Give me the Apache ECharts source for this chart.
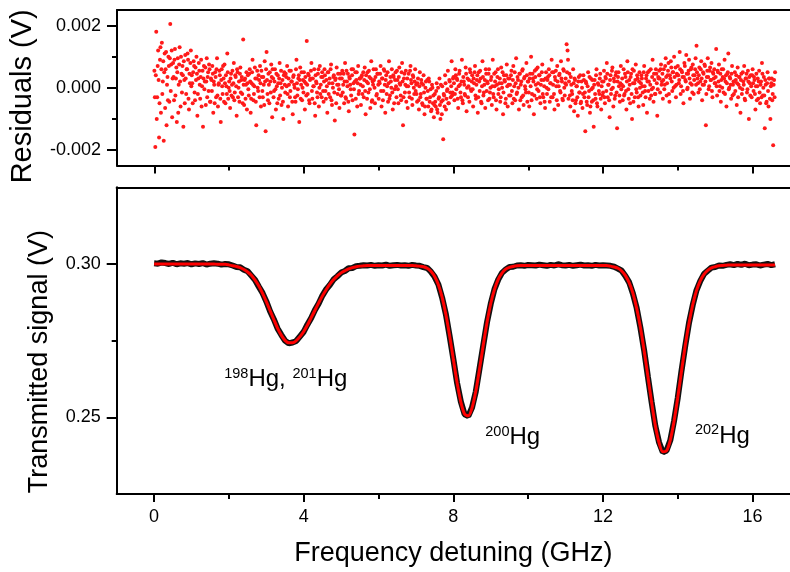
<!DOCTYPE html>
<html><head><meta charset="utf-8">
<script src="https://cdn.jsdelivr.net/npm/echarts@6/dist/echarts.min.js"></script>
<style>html,body{margin:0;padding:0;background:#fff}#c{width:790px;height:572px}</style>
</head><body><div id="c"></div>
<script>
// ---------- data ----------
// transmitted-signal sweep: frequency start / step (GHz)
const signalFreqStart = 0.0;
const signalFreqStep = 0.1;
// fitted transmission (V), 0.0 ... 16.6 GHz
const fitSignal = [
0.3000,0.3000,0.3000,0.3000,0.3000,0.3000,0.3000,0.3000,0.3000,0.3000,0.3000,0.3000,0.3000,0.3000,0.3000,0.3000,0.3000,
0.2999,0.2999,0.2999,
0.2997,0.2994,0.2992,0.2988,0.2982,0.2974,0.2963,0.2947,0.2928,0.2904,0.2877,0.2848,0.2819,0.2791,0.2768,0.2751,0.2743,0.2743,0.2750,0.2763,
0.2780,0.2801,0.2825,0.2849,0.2873,0.2896,0.2916,0.2934,0.2949,0.2961,0.2971,0.2978,0.2984,0.2988,0.2991,0.2993,0.2994,0.2995,
0.2995,0.2995,0.2995,0.2995,0.2995,0.2995,0.2995,0.2995,0.2995,0.2995,0.2995,0.2995,
0.2994,0.2993,0.2991,0.2986,0.2976,0.2959,0.2932,0.2891,0.2835,0.2766,0.2689,0.2613,0.2550,0.2511,0.2505,0.2531,0.2585,0.2658,0.2736,0.2809,
0.2871,0.2917,0.2950,0.2970,0.2983,0.2989,0.2992,0.2994,0.2995,
0.2995,0.2995,0.2995,0.2995,0.2995,0.2995,0.2995,0.2995,0.2995,0.2995,0.2995,0.2995,0.2995,0.2995,0.2995,0.2995,0.2995,0.2995,0.2995,0.2995,0.2995,0.2995,0.2995,
0.2993,0.2990,0.2986,0.2977,0.2962,0.2939,0.2905,0.2856,0.2794,0.2718,0.2634,0.2549,0.2473,0.2417,0.2388,0.2391,0.2426,0.2487,0.2565,0.2651,
0.2734,0.2807,0.2867,0.2913,0.2945,0.2966,0.2979,0.2987,0.2991,0.2994,0.2995,0.2996,
0.2997,0.2997,0.2997,0.2997,0.2997,0.2997,0.2997,0.2997,0.2997,0.2997,0.2997,0.2997,0.2997
];
// measured transmission (V), same frequencies
const measuredSignal = [
0.3002,0.3001,0.3005,0.3003,0.3000,0.3004,0.2999,0.3002,0.3001,0.3003,0.2999,0.3002,0.3000,0.3003,0.2998,0.3001,0.3002,
0.3001,0.2998,0.3000,
0.2999,0.2995,0.2990,0.2989,0.2981,0.2976,0.2962,0.2948,0.2926,0.2905,0.2878,0.2846,0.2820,0.2790,0.2769,0.2750,0.2741,0.2744,0.2749,0.2764,
0.2779,0.2803,0.2824,0.2850,0.2871,0.2897,0.2917,0.2932,0.2950,0.2960,0.2972,0.2977,0.2986,0.2987,0.2993,0.2994,0.2996,0.2995,
0.2997,0.2994,0.2996,0.2995,0.2998,0.2994,0.2996,0.2997,0.2995,0.2996,0.2994,0.2997,
0.2995,0.2994,0.2990,0.2987,0.2975,0.2958,0.2933,0.2890,0.2836,0.2765,0.2690,0.2612,0.2551,0.2510,0.2504,0.2532,0.2584,0.2659,0.2735,0.2810,
0.2870,0.2918,0.2949,0.2971,0.2982,0.2990,0.2991,0.2995,0.2996,
0.2994,0.2997,0.2996,0.2995,0.2998,0.2996,0.2994,0.2997,0.2995,0.2999,0.2996,0.2995,0.2997,0.2994,0.2996,0.2998,0.2995,0.2996,0.2994,0.2997,0.2995,0.2996,0.2995,
0.2994,0.2991,0.2985,0.2978,0.2961,0.2940,0.2904,0.2857,0.2793,0.2719,0.2633,0.2550,0.2472,0.2418,0.2386,0.2392,0.2425,0.2488,0.2564,0.2652,
0.2733,0.2808,0.2866,0.2914,0.2944,0.2967,0.2978,0.2988,0.2990,0.2995,0.2994,0.2997,
0.2999,0.2996,0.3000,0.2997,0.3001,0.2996,0.2998,0.2999,0.2995,0.2998,0.3000,0.2996,0.2999
];
// residual sweep: frequency start / step (GHz)
const residFreqStart = 0.0;
const residFreqStep = 0.0125;
// residuals (mV), one row = 0.5 GHz
const residualsMilliVolt = [
0.55,-0.3,-1.9,0.4,1.8,-1.0,-0.3,0.7,1.2,0.25,-1.6,-0.5,0.9,1.3,-0.8,0.6,1.45,-0.2,0.2,0.85,-1.7,0.5,1.1,-0.65,0.6,1.15,-1.2,0.1,0.35,-0.4,1.0,0.7,-0.45,0.95,2.05,-0.1,0.75,1.2,-0.95,0.3,
0.8,0.35,-0.4,0.9,1.25,-0.25,0.3,0.65,-1.1,0.5,0.95,-0.8,0.1,0.75,1.3,0.2,-0.6,1.0,0.45,-0.15,0.7,0.4,-1.25,0.85,0.25,-0.5,1.05,0.3,-0.2,0.6,0.6,1.1,0.9,-0.35,-0.7,0.45,0.15,0.8,1.2,0.05,
0.4,0.15,-0.5,0.5,0.85,0.7,-0.15,-0.4,0.65,0.25,1.0,0.45,-0.9,-0.2,0.3,0.8,0.55,0.1,-0.35,0.35,0.9,-0.6,0.05,0.55,-1.25,0.3,0.7,-0.05,0.2,0.65,-0.55,0.2,0.95,-0.3,0.35,0.5,-0.1,0.75,0.6,-0.45,
-0.45,0.3,0.25,-0.1,0.7,0.45,-0.8,0.2,0.1,-0.5,0.5,0.35,-0.3,0.6,0.95,-0.25,-0.6,0.1,0.15,0.55,0.4,-0.35,-1.1,0.25,0.6,0.05,-0.2,0.7,0.3,-0.45,0.75,0.15,-0.5,0.4,0.05,-0.2,1.1,0.5,-0.35,0.0,
0.2,-0.1,-0.65,0.3,0.45,-0.25,0.1,0.55,-0.3,0.15,0.8,-0.4,-0.15,0.4,0.35,0.05,-0.9,0.6,0.5,-0.3,0.0,0.2,-0.45,0.45,0.65,-0.15,0.25,0.35,-0.2,-0.5,1.55,0.1,-0.55,0.25,0.3,-0.35,0.1,0.5,-0.7,0.15,
0.4,-0.05,-0.25,0.45,0.6,0.2,-0.8,-0.35,0.15,0.5,0.9,0.1,-0.4,-0.2,0.05,0.65,0.3,-0.45,-1.2,0.3,0.55,0.0,-0.1,0.4,0.25,-0.3,0.7,0.15,-0.6,0.55,0.35,-0.1,-0.3,0.35,0.1,-0.55,0.85,0.2,-1.4,0.6,
1.15,0.25,-0.2,-0.4,0.45,0.1,-0.5,0.5,0.2,-0.15,0.75,0.35,-0.95,0.6,0.3,-0.3,-0.1,0.2,0.6,-0.05,-0.7,0.45,0.05,-0.5,0.4,0.15,-0.35,0.3,0.8,-0.25,0.15,0.55,-0.55,0.0,0.25,-0.45,-1.0,0.4,0.5,0.1,
-0.15,0.45,0.35,0.05,0.7,-0.2,-0.6,0.3,0.1,0.55,-0.3,-0.1,0.55,0.2,0.2,-0.45,-0.85,0.35,0.4,0.1,0.0,-0.3,-0.45,0.6,0.9,0.15,-0.25,-0.05,0.3,0.4,-1.1,0.25,0.65,-0.35,0.1,0.5,-0.4,0.0,0.25,-0.15,
0.5,0.2,-0.7,0.35,0.15,-0.25,1.5,0.1,-0.2,0.45,0.4,-0.4,-0.5,0.25,0.3,0.55,0.8,-0.1,-0.35,0.3,0.05,0.05,0.6,-0.5,-0.9,0.4,0.2,0.15,-0.15,-0.3,0.45,0.6,-0.6,0.0,0.7,-0.2,0.1,0.35,-0.3,0.5,
0.35,-0.1,-0.45,0.2,0.6,0.4,-0.1,-0.35,0.25,0.05,-0.8,0.5,0.5,-0.2,0.15,0.3,-0.3,0.6,0.75,-0.4,-0.55,0.15,0.0,0.35,0.4,-0.15,-1.05,0.25,0.3,-0.5,0.65,0.1,-0.2,0.45,0.1,-0.05,-0.65,0.3,0.45,-0.25,
-0.25,0.3,0.55,-0.15,0.1,0.45,-0.5,0.2,0.8,-0.3,-0.35,0.55,0.2,0.05,0.45,-0.45,-0.75,0.35,0.3,0.1,-0.05,-0.25,0.6,0.4,-0.4,0.6,0.15,-0.05,-1.5,0.2,0.5,-0.35,0.25,0.5,-0.6,0.15,0.7,-0.2,-0.1,0.3,
0.3,0.1,-0.55,0.35,0.4,-0.2,0.05,0.5,-0.3,0.25,0.65,-0.1,-0.85,0.4,0.2,-0.35,0.5,0.15,-0.15,0.55,0.35,-0.05,-0.65,0.3,0.85,-0.45,-0.4,0.2,0.1,0.6,0.25,0.0,-0.5,0.35,0.6,-0.25,-0.2,0.45,0.45,0.1,
-0.35,0.2,0.15,0.45,0.7,-0.1,-0.6,0.3,0.3,-0.4,-0.1,0.6,0.55,0.1,-0.8,0.25,0.4,-0.2,0.05,0.5,-0.45,0.15,0.85,-0.35,-0.25,0.35,0.2,0.0,0.6,-0.15,-0.7,0.4,0.35,-0.5,-0.05,0.25,0.5,0.05,-0.3,0.55,
0.25,-0.05,-0.5,0.35,0.65,0.15,0.1,-0.25,-0.4,0.5,0.8,0.2,-1.2,-0.3,0.3,0.45,-0.15,0.1,0.55,-0.45,0.05,0.3,-0.65,0.05,0.45,-0.15,-0.3,0.55,0.7,0.25,0.15,-0.35,-0.55,0.4,0.35,0.0,-0.2,0.2,0.6,-0.1,
0.1,-0.2,-0.45,0.15,0.3,-0.4,-0.7,0.05,0.5,-0.3,-0.2,0.25,0.15,-0.5,-0.55,0.1,0.4,-0.15,-0.85,-0.6,0.0,0.2,-0.35,-0.35,0.25,-0.1,-0.6,0.3,0.2,-0.45,-0.3,-0.05,-0.75,-0.7,0.1,0.0,-0.5,-0.25,-0.95,-0.55,
-0.2,-0.45,-0.6,-0.1,0.15,-0.7,-0.8,0.0,-0.35,-0.3,0.3,-0.55,-1.0,0.1,-0.45,-0.85,0.05,-0.4,-1.65,-0.2,-0.25,-0.6,0.4,0.15,-0.7,-0.35,-0.1,-0.05,0.55,-0.5,-0.5,0.25,0.2,-0.15,-0.3,0.05,0.85,-0.25,-0.15,0.3,
0.35,0.15,-0.4,-0.2,0.6,0.4,-0.05,0.3,0.25,-0.35,-0.65,0.05,0.45,0.55,0.1,-0.15,-0.3,0.2,0.9,-0.4,-0.5,0.35,0.2,0.1,-0.2,-0.25,0.65,0.45,-0.75,0.0,0.3,-0.3,0.05,0.25,-0.45,0.6,0.5,-0.05,-0.1,0.2,
0.4,-0.05,-0.6,0.3,0.15,0.5,0.7,-0.25,-0.35,0.1,0.25,0.4,-0.8,-0.3,0.5,0.2,-0.1,0.55,0.3,-0.45,-0.5,0.05,0.85,0.35,-0.25,-0.15,0.1,0.25,-0.65,0.6,0.45,-0.1,0.2,0.15,-0.4,0.45,0.6,-0.35,-0.15,0.0,
0.25,0.35,-0.55,0.05,0.9,-0.2,-0.3,0.45,0.05,0.2,0.5,-0.4,-0.7,0.1,0.35,0.6,-0.2,-0.05,0.15,0.3,-0.45,-0.3,0.65,0.15,0.0,0.5,-0.85,-0.15,0.4,0.25,0.2,-0.5,-0.35,0.4,0.75,0.05,-0.6,0.3,0.1,-0.25,
0.3,0.1,-0.25,0.4,0.55,-0.1,-0.5,0.25,0.7,-0.35,0.05,0.5,-0.4,0.15,0.95,-0.2,-0.15,0.35,0.25,0.0,-0.7,0.45,0.45,-0.4,0.1,0.2,-0.3,0.55,0.6,-0.25,-0.55,0.3,0.35,0.05,-0.05,-0.15,0.8,0.4,-0.45,0.2,
0.2,-0.15,-0.6,0.3,0.45,0.05,1.0,-0.4,-0.2,0.45,0.3,0.2,-0.85,-0.25,0.55,0.35,0.1,0.6,-0.35,-0.05,0.65,0.15,-0.1,0.4,0.4,-0.3,-0.5,0.1,0.25,0.5,0.75,-0.2,-0.3,0.25,0.05,-0.45,-0.65,0.3,0.5,0.0,
-0.2,0.25,0.35,-0.05,0.6,0.4,-0.45,0.15,0.15,-0.3,0.9,0.5,-0.3,0.1,0.5,-0.2,-0.7,0.35,0.25,0.55,0.05,-0.4,0.7,0.2,-0.55,0.05,0.4,0.45,-0.1,-0.15,0.85,0.3,0.2,-0.35,-0.4,0.6,0.55,0.0,-0.25,0.15,
0.3,0.1,1.4,0.5,1.2,0.9,-0.35,0.2,0.45,-0.25,-0.6,0.35,0.1,-0.1,-0.2,-0.4,0.6,0.15,-0.75,0.3,0.25,-0.5,-0.4,0.05,0.05,-0.3,-0.9,0.2,0.35,-0.15,-0.15,0.4,-0.5,-0.45,0.2,0.0,-0.65,-0.2,0.4,0.25,
-0.3,-0.15,-1.4,0.2,0.15,-0.45,-0.55,0.05,0.5,-0.3,-0.1,0.35,-0.8,-0.6,0.3,-0.05,-0.45,0.25,0.0,-0.4,-1.25,0.1,0.25,-0.2,-0.35,0.4,0.6,-0.5,-0.6,0.15,0.1,-0.1,-0.2,0.3,0.45,-0.35,-0.7,0.05,0.2,-0.25,
-0.15,0.2,0.55,-0.3,-0.5,0.35,0.3,-0.1,0.8,0.45,-0.3,0.1,0.1,-0.4,-0.95,0.25,0.4,-0.2,-0.05,0.55,0.65,0.0,-0.6,0.3,0.2,-0.35,-0.25,0.4,0.5,-0.15,-1.3,0.2,0.35,0.5,0.05,-0.25,-0.45,0.15,0.7,-0.05,
0.1,0.3,-0.4,0.05,0.6,-0.25,-0.2,0.45,0.35,-0.1,-0.7,0.2,0.85,0.5,-0.05,-0.35,0.25,0.1,-0.5,0.35,0.45,-0.2,-1.0,0.6,0.15,-0.45,0.55,0.15,-0.3,0.25,0.75,-0.05,-0.15,0.4,0.3,-0.3,-0.6,0.2,0.5,0.0,
-0.25,0.15,0.4,0.3,0.05,-0.15,-0.55,0.5,0.7,0.05,-0.1,-0.3,0.3,0.4,-0.8,0.2,0.5,-0.1,0.2,0.55,-0.35,0.1,0.6,-0.25,-0.05,0.35,0.9,0.0,-0.45,0.45,0.25,-0.2,-0.2,0.6,0.45,0.15,-0.9,-0.05,0.35,0.3,
0.55,0.3,-0.15,0.6,0.75,0.1,0.2,0.45,-0.35,0.25,0.6,-0.05,0.1,0.7,0.95,0.35,-0.25,0.15,0.4,0.55,0.8,-0.2,-0.45,0.4,0.3,0.85,0.65,0.2,-0.1,0.5,0.5,0.0,1.0,0.35,0.05,0.65,-0.3,0.1,0.45,0.4,
0.7,0.4,0.15,0.25,1.15,0.6,-0.2,0.05,0.55,0.5,0.35,-0.1,-0.5,0.35,0.8,0.7,0.25,0.2,1.05,0.45,-0.05,0.0,0.45,0.55,0.9,0.3,-0.35,0.15,0.6,0.65,0.1,-0.15,0.75,0.4,-0.2,0.25,0.4,0.6,0.95,0.1,
1.35,0.5,0.3,0.15,-0.15,0.4,0.65,-0.05,0.2,0.6,0.85,0.3,-0.4,0.1,0.5,0.45,0.1,0.75,0.7,0.2,-1.2,-0.2,0.35,0.55,0.95,0.35,-0.05,0.05,0.55,0.65,0.25,0.25,0.8,-0.1,-0.3,0.5,0.45,0.3,0.6,0.15,
0.15,0.35,1.25,0.05,-0.25,0.55,0.5,0.2,0.75,-0.1,0.05,0.45,-0.45,0.25,0.6,0.0,0.35,0.6,-0.15,0.3,0.9,-0.2,0.2,0.4,-0.6,0.15,0.45,0.5,1.1,-0.05,0.0,0.35,0.3,0.1,-0.35,0.45,0.7,-0.25,0.1,0.2,
-0.2,0.2,0.5,-0.1,0.25,0.4,-0.55,0.15,0.65,-0.3,0.1,0.35,0.35,0.0,-0.8,0.25,0.45,-0.2,-0.05,0.5,0.2,0.1,0.7,-0.35,-0.4,0.3,0.3,0.45,-0.15,-0.05,0.55,0.2,-1.0,0.35,0.15,-0.25,0.4,0.05,-0.3,0.4,
0.6,0.15,-0.1,0.35,0.25,-0.2,-0.7,0.05,0.45,-0.4,0.05,0.3,-0.35,0.2,0.55,-0.15,-0.5,0.1,0.2,-0.3,0.8,0.45,-0.25,0.0,0.35,-0.25,-1.3,0.25,0.1,-0.5,-0.45,0.15,0.5,-0.1,-0.6,0.3,0.3,-0.35,-1.0,0.05,
0.15,0.3,-0.4,-0.2,-1.85,0.1,0.25,-0.3,0.5
];
// axis ticks
const freqMajorTicks = [0, 4, 8, 12, 16];
const freqMinorTicks = [2, 6, 10, 14];
const residMajorTicks = [-0.002, 0, 0.002];
const residMinorTicks = [-0.001, 0.001];
const signalMajorTicks = [0.25, 0.30];
const signalMinorTicks = [0.275];
// isotope labels (anchor in data coordinates)
const isotopeLabelFreq = [1.875, 8.853, 14.46];
const isotopeLabelSignal = [0.2623, 0.2433, 0.2438];
const isotopeLabelText = ['{s|198}{m|Hg, }{s|201}{m|Hg}', '{s|200}{m|Hg}', '{s|202}{m|Hg}'];

// ---------- chart ----------
const FONT = '"Liberation Sans", Arial, Helvetica, sans-serif';
const X_MIN = -1, X_MAX = 17;
const R_MIN = -0.0025, R_MAX = 0.0025;
const S_MIN = 0.225, S_MAX = 0.325;

const fitData = fitSignal.map((v, i) => [+(signalFreqStart + i * signalFreqStep).toFixed(3), v]);
const measData = measuredSignal.map((v, i) => [+(signalFreqStart + i * signalFreqStep).toFixed(3), v]);
const residData = residualsMilliVolt.map((v, i) => [+(residFreqStart + i * residFreqStep).toFixed(4), v / 1000]);
const labelData = isotopeLabelFreq.map((f, i) => [f, isotopeLabelSignal[i]]);

const blackLine = { show: true, onZero: false, lineStyle: { color: '#000', width: 2 } };
function axis(base, extra) {
  return Object.assign({
    type: 'value', splitLine: { show: false },
    axisLine: { show: false, onZero: false }, axisTick: { show: false }, axisLabel: { show: false }
  }, base, extra);
}
function ticks(values, len) {
  return { show: true, length: len, customValues: values, lineStyle: { color: '#000', width: 2 } };
}
const tickLabel = { color: '#000', fontSize: 18, fontFamily: FONT };

const option = {
  animation: false,
  backgroundColor: '#fff',
  grid: [
    { left: 116.7, right: -8, top: 10, height: 155.6 },
    { left: 116.7, right: -8, top: 187.3, height: 308 }
  ],
  xAxis: [
    axis({ gridIndex: 0, min: X_MIN, max: X_MAX, position: 'bottom' }, { axisLine: blackLine, axisTick: ticks(freqMajorTicks, 8) }),
    axis({ gridIndex: 0, min: X_MIN, max: X_MAX, position: 'bottom' }, { axisTick: ticks(freqMinorTicks, 5) }),
    axis({ gridIndex: 0, min: X_MIN, max: X_MAX, position: 'top' }, { axisLine: blackLine }),
    axis({ gridIndex: 1, min: X_MIN, max: X_MAX, position: 'bottom' }, {
      axisLine: blackLine, axisTick: ticks(freqMajorTicks, 8),
      axisLabel: Object.assign({ show: true, margin: 14, customValues: freqMajorTicks }, tickLabel),
      name: 'Frequency detuning (GHz)', nameLocation: 'middle', nameGap: 46,
      nameTextStyle: { color: '#000', fontSize: 27, fontFamily: FONT }
    }),
    axis({ gridIndex: 1, min: X_MIN, max: X_MAX, position: 'bottom' }, { axisTick: ticks(freqMinorTicks, 5) }),
    axis({ gridIndex: 1, min: X_MIN, max: X_MAX, position: 'top' }, { axisLine: blackLine })
  ],
  yAxis: [
    axis({ gridIndex: 0, min: R_MIN, max: R_MAX, position: 'left' }, {
      axisLine: blackLine, axisTick: ticks(residMajorTicks, 10),
      axisLabel: Object.assign({ show: true, margin: 16, customValues: residMajorTicks, formatter: v => v.toFixed(3) }, tickLabel),
      name: 'Residuals (V)', nameLocation: 'middle', nameGap: 80,
      nameTextStyle: { color: '#000', fontSize: 29, fontFamily: FONT, padding: [0, 17, 0, 0] }
    }),
    axis({ gridIndex: 0, min: R_MIN, max: R_MAX, position: 'left' }, { axisTick: ticks(residMinorTicks, 5) }),
    axis({ gridIndex: 1, min: S_MIN, max: S_MAX, position: 'left' }, {
      axisLine: blackLine, axisTick: ticks(signalMajorTicks, 10),
      axisLabel: Object.assign({ show: true, margin: 16, customValues: signalMajorTicks, formatter: v => v.toFixed(2) }, tickLabel),
      name: 'Transmitted signal (V)', nameLocation: 'middle', nameGap: 64,
      nameTextStyle: { color: '#000', fontSize: 27, fontFamily: FONT, padding: [0, 42, 0, 0] }
    }),
    axis({ gridIndex: 1, min: S_MIN, max: S_MAX, position: 'left' }, { axisTick: ticks(signalMinorTicks, 5) })
  ],
  series: [
    {
      name: 'Residuals', type: 'scatter', xAxisIndex: 0, yAxisIndex: 0,
      data: residData, symbolSize: 4, silent: true,
      itemStyle: { color: '#ff1a1a', opacity: 1 }
    },
    {
      name: 'Measured', type: 'line', xAxisIndex: 3, yAxisIndex: 2,
      data: measData, showSymbol: false, silent: true, z: 2,
      lineStyle: { color: '#111', width: 6 }
    },
    {
      name: 'Fit', type: 'line', xAxisIndex: 3, yAxisIndex: 2,
      data: fitData, showSymbol: false, silent: true, smooth: 0.3, z: 3,
      lineStyle: { color: '#ff0000', width: 3 }
    },
    {
      name: 'Isotopes', type: 'scatter', xAxisIndex: 3, yAxisIndex: 2,
      data: labelData, symbolSize: 0, silent: true, z: 4,
      itemStyle: { opacity: 1 },
      label: {
        show: true, position: 'right', distance: 0, color: '#000', opacity: 1,
        textBorderWidth: 0, fontSize: 24, fontFamily: FONT,
        formatter: p => isotopeLabelText[p.dataIndex],
        rich: {
          m: { fontSize: 24, fontFamily: FONT, color: '#000', lineHeight: 27, textBorderWidth: 0 },
          s: { fontSize: 14.5, fontFamily: FONT, color: '#000', lineHeight: 15, verticalAlign: 'top', textBorderWidth: 0 }
        }
      }
    }
  ]
};
const chart = echarts.init(document.getElementById('c'), null, { renderer: 'canvas' });
chart.setOption(option);
</script>
</body></html>
